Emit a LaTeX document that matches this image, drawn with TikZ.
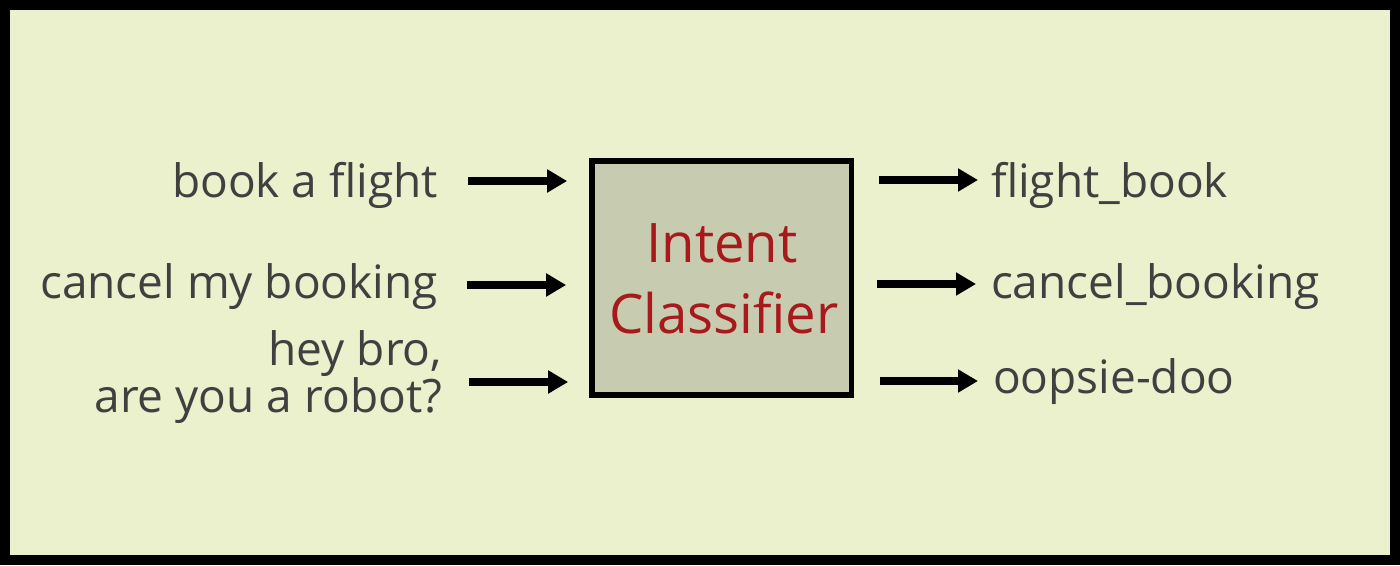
\documentclass[tikz,border=0pt]{standalone}
\usepackage{fontspec}
\setmainfont{Open Sans}
\usetikzlibrary{arrows.meta}
\definecolor{bgc}{RGB}{235,240,205}
\definecolor{boxc}{RGB}{199,204,176}
\definecolor{redc}{RGB}{168,25,27}
\definecolor{txtc}{RGB}{64,64,64}
\tikzset{
  lbl/.style={inner sep=0pt, outer sep=0pt, text=txtc, font=\fontsize{46}{40}\selectfont},
  ctext/.style={inner sep=0pt, outer sep=0pt, text=redc, font=\fontsize{54.5}{71}\selectfont},
  arr/.style={line width=8pt, -{Triangle[length=20pt,width=22pt]}},
  clsbox/.style={draw=black, line width=5.7pt, fill=boxc, minimum width=259.5pt, minimum height=234pt, inner sep=0pt}
}
\begin{document}
\begin{tikzpicture}[x=1pt,y=-1pt]
\useasboundingbox (0,0) rectangle (1400,565);
\fill[black] (0,0) rectangle (1400,565);
\fill[bgc] (10,10) rectangle (1390,555);
\node[clsbox] (box) at (721.75,278) {};
\node[ctext, anchor=base] (c1) at (722,262) {Intent};
\node[ctext, anchor=base] (c2) at (724,333) {Classifier};
% left texts
\node[lbl, anchor=base east] (l1) at (438,197) {book a flight};
\node[lbl, anchor=base east] (l2) at (438,298) {cancel my booking};
\node[lbl, anchor=base east, align=right] (l3) at (442,412) {hey bro,\\are you a robot?};
% right texts
\node[lbl, anchor=base west] (r1) at (991,197) {flight\_book};
\node[lbl, anchor=base west] (r2) at (991,298) {cancel\_booking};
\node[lbl, anchor=base west] (r3) at (993,393) {oopsie-doo};
% arrow rows
\coordinate (a1) at (0,181);
\coordinate (a2) at (0,285);
\coordinate (a3) at (0,382);
\coordinate (b1) at (0,180);
\coordinate (b2) at (0,284);
\coordinate (b3) at (0,381);
\draw[arr, shorten <=30pt, shorten >=22pt] (l1.east |- a1) -- (box.west |- a1);
\draw[arr, shorten <=29pt, shorten >=23pt] (l2.east |- a2) -- (box.west |- a2);
\draw[arr, shorten <=27pt, shorten >=21pt] (l3.east |- a3) -- (box.west |- a3);
\draw[arr, shorten <=25pt, shorten >=13pt] (box.east |- b1) -- (r1.west |- b1);
\draw[arr, shorten <=23pt, shorten >=15pt] (box.east |- b2) -- (r2.west |- b2);
\draw[arr, shorten <=26pt, shorten >=15pt] (box.east |- b3) -- (r3.west |- b3);
\end{tikzpicture}
\end{document}
